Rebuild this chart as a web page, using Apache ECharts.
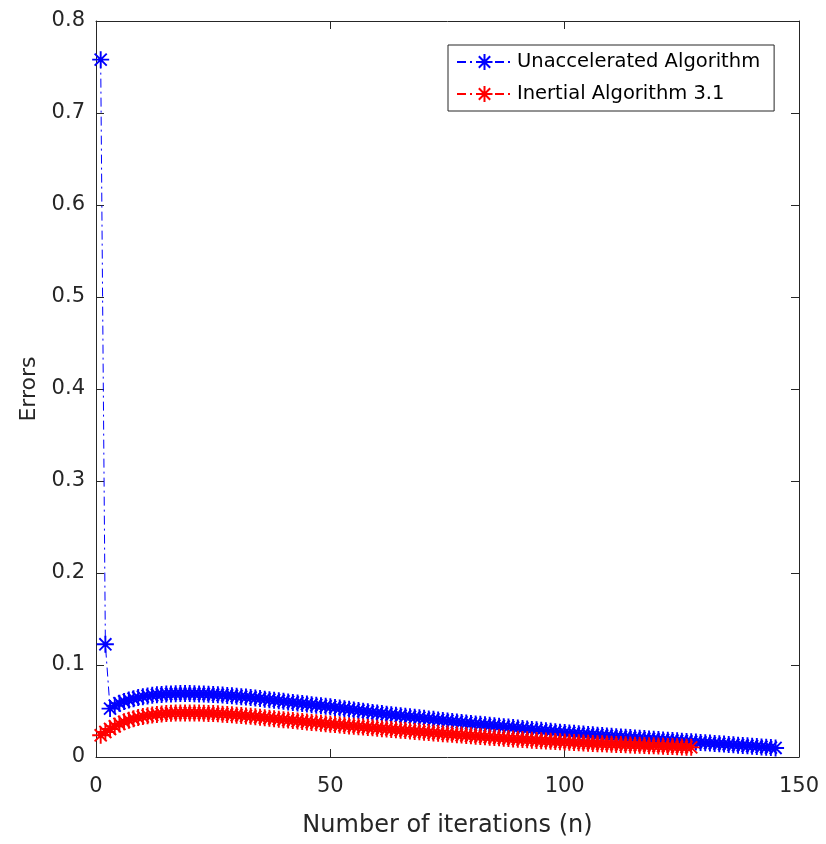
<!DOCTYPE html>
<html>
<head>
<meta charset="utf-8">
<script src="https://cdn.jsdelivr.net/npm/echarts@6/dist/echarts.min.js"></script>
<style>
html,body{margin:0;padding:0;background:#fff;}
#chart{width:826px;height:844px;}
</style>
</head>
<body>
<div id="chart"></div>
<script>
// ---- data ----
const seriesNames = ['Unaccelerated Algorithm', 'Inertial Algorithm 3.1'];
const xTicks = [0, 50, 100, 150];
const yTicks = [0, 0.1, 0.2, 0.3, 0.4, 0.5, 0.6, 0.7, 0.8];

// errors of the unaccelerated algorithm, iterations n = 1..145
const unacceleratedErrors = [
  0.758, 0.1225, 0.0526, 0.0558, 0.0585, 0.0604, 0.0620, 0.0634, 0.0646, 0.0656,
  0.0664, 0.0671, 0.0676, 0.0680, 0.0684, 0.0686, 0.0688, 0.0689, 0.0689, 0.0689,
  0.0688, 0.0686, 0.0684, 0.0682, 0.0679, 0.0676, 0.0673, 0.0669, 0.0665, 0.0661,
  0.0656, 0.0651, 0.0646, 0.0641, 0.0635, 0.0629, 0.0623, 0.0617, 0.0611, 0.0605,
  0.0599, 0.0593, 0.0587, 0.0581, 0.0575, 0.0569, 0.0563, 0.0557, 0.0551, 0.0545,
  0.0538, 0.0532, 0.0525, 0.0519, 0.0512, 0.0505, 0.0498, 0.0491, 0.0485, 0.0478,
  0.0472, 0.0466, 0.0460, 0.0454, 0.0448, 0.0442, 0.0437, 0.0431, 0.0426, 0.0420,
  0.0414, 0.0409, 0.0403, 0.0398, 0.0392, 0.0387, 0.0381, 0.0376, 0.0370, 0.0365,
  0.0360, 0.0355, 0.0350, 0.0345, 0.0340, 0.0335, 0.0330, 0.0325, 0.0320, 0.0315,
  0.0310, 0.0305, 0.0300, 0.0295, 0.0290, 0.0285, 0.0280, 0.0275, 0.0270, 0.0265,
  0.0261, 0.0257, 0.0253, 0.0249, 0.0245, 0.0241, 0.0237, 0.0233, 0.0229, 0.0225,
  0.0221, 0.0218, 0.0214, 0.0211, 0.0207, 0.0204, 0.0200, 0.0197, 0.0193, 0.0190,
  0.0186, 0.0183, 0.0179, 0.0176, 0.0172, 0.0169, 0.0165, 0.0162, 0.0158, 0.0155,
  0.0151, 0.0147, 0.0144, 0.0140, 0.0136, 0.0133, 0.0129, 0.0125, 0.0122, 0.0118,
  0.0114, 0.0110, 0.0106, 0.0102, 0.0098
];

// errors of the inertial algorithm 3.1, iterations n = 1..127
const inertialErrors = [
  0.0236, 0.0272, 0.0305, 0.0334, 0.0360, 0.0382, 0.0400, 0.0416, 0.0429, 0.0440,
  0.0449, 0.0457, 0.0463, 0.0468, 0.0472, 0.0475, 0.0477, 0.0478, 0.0479, 0.0479,
  0.0478, 0.0477, 0.0476, 0.0474, 0.0472, 0.0469, 0.0466, 0.0463, 0.0459, 0.0455,
  0.0451, 0.0446, 0.0442, 0.0437, 0.0432, 0.0427, 0.0422, 0.0417, 0.0411, 0.0406,
  0.0401, 0.0396, 0.0391, 0.0386, 0.0381, 0.0376, 0.0371, 0.0366, 0.0361, 0.0356,
  0.0352, 0.0347, 0.0343, 0.0338, 0.0334, 0.0330, 0.0325, 0.0321, 0.0317, 0.0312,
  0.0308, 0.0304, 0.0299, 0.0295, 0.0291, 0.0287, 0.0282, 0.0278, 0.0274, 0.0270,
  0.0266, 0.0262, 0.0258, 0.0254, 0.0250, 0.0246, 0.0242, 0.0238, 0.0234, 0.0230,
  0.0226, 0.0222, 0.0219, 0.0215, 0.0211, 0.0208, 0.0204, 0.0200, 0.0197, 0.0193,
  0.0190, 0.0187, 0.0183, 0.0180, 0.0177, 0.0174, 0.0171, 0.0168, 0.0165, 0.0162,
  0.0159, 0.0157, 0.0154, 0.0152, 0.0149, 0.0147, 0.0145, 0.0143, 0.0141, 0.0139,
  0.0137, 0.0135, 0.0133, 0.0131, 0.0129, 0.0127, 0.0125, 0.0123, 0.0121, 0.0119,
  0.0117, 0.0115, 0.0113, 0.0111, 0.0109, 0.0107, 0.0105
];

// ---- chart ----
const AX = '#262626';
const FONT = 'DejaVu Sans';
const asterisk = 'path://M10,0L10,20M0,10L20,10M2.9,2.9L17.1,17.1M2.9,17.1L17.1,2.9';

function toPairs(arr) { return arr.map((v, i) => [i + 1, v]); }

const axisCommon = {
  type: 'value',
  axisLine: { show: true, onZero: false, lineStyle: { color: AX, width: 1 } },
  axisTick: { show: true, inside: true, length: 8, lineStyle: { color: AX, width: 1 } },
  splitLine: { show: false },
  axisLabel: { fontFamily: FONT, fontSize: 21, color: AX }
};

const chart = echarts.init(document.getElementById('chart'), null, { renderer: 'canvas' });
chart.setOption({
  backgroundColor: '#ffffff',
  animation: false,
  grid: { left: 96, right: 27, top: 21, bottom: 87, containLabel: false },
  legend: {
    orient: 'vertical',
    left: 448,
    top: 45,
    data: seriesNames,
    backgroundColor: '#ffffff',
    borderColor: AX,
    borderWidth: 1,
    padding: [7, 14, 7, 8],
    itemWidth: 55,
    itemHeight: 20,
    itemGap: 12,
    textStyle: { fontFamily: FONT, fontSize: 19.5, color: '#000000', lineHeight: 20 }
  },
  xAxis: [
    Object.assign({}, axisCommon, {
      min: xTicks[0], max: xTicks[xTicks.length - 1], interval: 50, position: 'bottom',
      name: 'Number of iterations (n)', nameLocation: 'middle', nameGap: 57,
      nameTextStyle: { fontFamily: FONT, fontSize: 24, color: AX },
      axisLabel: { fontFamily: FONT, fontSize: 21, color: AX, margin: 19 }
    }),
    Object.assign({}, axisCommon, {
      min: xTicks[0], max: xTicks[xTicks.length - 1], interval: 50, position: 'top',
      axisLabel: { show: false }
    })
  ],
  yAxis: [
    Object.assign({}, axisCommon, {
      min: yTicks[0], max: yTicks[yTicks.length - 1], interval: 0.1, position: 'left',
      name: 'Errors', nameLocation: 'middle', nameGap: 56,
      nameTextStyle: { fontFamily: FONT, fontSize: 22, color: AX },
      axisLabel: { fontFamily: FONT, fontSize: 21, color: AX, margin: 11,
        formatter: v => String(Math.round(v * 10) / 10) }
    }),
    Object.assign({}, axisCommon, {
      min: yTicks[0], max: yTicks[yTicks.length - 1], interval: 0.1, position: 'right',
      axisLabel: { show: false }
    })
  ],
  series: [
    {
      name: seriesNames[0], type: 'line', xAxisIndex: 0, yAxisIndex: 0,
      data: toPairs(unacceleratedErrors),
      symbol: asterisk, symbolSize: 17, showAllSymbol: true, clip: false,
      itemStyle: { color: '#0000ff', borderColor: '#0000ff', borderWidth: 1.9 },
      lineStyle: { color: '#0000ff', width: 1, type: [9, 4, 2, 4] },
      z: 2
    },
    {
      name: seriesNames[1], type: 'line', xAxisIndex: 0, yAxisIndex: 0,
      data: toPairs(inertialErrors),
      symbol: asterisk, symbolSize: 17, showAllSymbol: true, clip: false,
      itemStyle: { color: '#ff0000', borderColor: '#ff0000', borderWidth: 1.9 },
      lineStyle: { color: '#ff0000', width: 1, type: [9, 4, 2, 4] },
      z: 3
    }
  ]
});
</script>
</body>
</html>
